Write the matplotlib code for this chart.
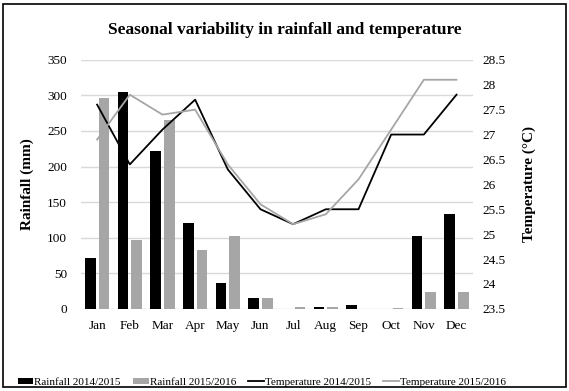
import numpy as np
import matplotlib.pyplot as plt
from matplotlib.patches import Rectangle

plt.rcParams['font.family'] = ['Liberation Serif', 'DejaVu Serif']

# data
months = ['Jan', 'Feb', 'Mar', 'Apr', 'May', 'Jun', 'Jul', 'Aug', 'Sep', 'Oct', 'Nov', 'Dec']
rain_1415 = [72, 305, 222, 120, 37, 15, 0, 2, 5, 0, 102, 133]
rain_1516 = [297, 97, 266, 83, 102, 15, 3, 2, 0, 1, 24, 24]
temp_1415 = [27.6, 26.4, 27.1, 27.7, 26.3, 25.5, 25.2, 25.5, 25.5, 27.0, 27.0, 27.8]
temp_1516 = [26.9, 27.8, 27.4, 27.5, 26.4, 25.6, 25.2, 25.4, 26.1, 27.1, 28.1, 28.1]

x = np.arange(len(months))
w = 0.33

fig = plt.figure(figsize=(5.69, 3.91), dpi=100)
ax = fig.add_axes([0.142, 0.21, 0.689, 0.637])

ax.bar(x - 0.21, rain_1415, w, color='black', label='Rainfall 2014/2015', zorder=2)
ax.bar(x + 0.21, rain_1516, w, color='#a6a6a6', label='Rainfall 2015/2016', zorder=2)
ax.set_ylim(0, 350)
ax.set_yticks(range(0, 351, 50))
ax.set_xlim(-0.5, 11.5)
ax.set_xticks(x)
ax.set_xticklabels(months)
ax.grid(axis='y', color='#d9d9d9', linewidth=1, zorder=0)
ax.set_axisbelow(True)
ax.tick_params(axis='y', length=0, labelsize=9.5, pad=10)
ax.tick_params(axis='x', length=0, labelsize=9.5, pad=8)
ax.set_ylabel('Rainfall (mm)', fontsize=11, fontweight='bold', labelpad=9)
for s in ax.spines.values():
    s.set_visible(False)

ax2 = ax.twinx()
ax2.plot(x, temp_1415, color='black', linewidth=1.3, label='Temperature 2014/2015', zorder=3)
ax2.plot(x, temp_1516, color='#a6a6a6', linewidth=1.3, label='Temperature 2015/2016', zorder=3)
ax2.set_ylim(23.5, 28.5)
ax2.set_yticks(np.arange(23.5, 28.51, 0.5))
ax2.set_yticklabels(['23.5', '24', '24.5', '25', '25.5', '26', '26.5', '27', '27.5', '28', '28.5'])
ax2.tick_params(length=0, labelsize=9.5, pad=7)
ax2.set_ylabel('Temperature (°C)', fontsize=11, fontweight='bold', labelpad=12)
for s in ax2.spines.values():
    s.set_visible(False)

fig.suptitle('Seasonal variability in rainfall and temperature', y=0.943,
             fontsize=12.5, fontweight='bold')

h1, l1 = ax.get_legend_handles_labels()
h2, l2 = ax2.get_legend_handles_labels()
fig.legend(h1 + h2, l1 + l2, loc='lower center', bbox_to_anchor=(0.46, -0.015),
           ncol=4, frameon=False, fontsize=8, handlelength=1.4, handletextpad=0.1,
           columnspacing=1.1, handleheight=0.5)

# outer frame
fig.patches.append(Rectangle((0.006, 0.01), 0.988, 0.98, transform=fig.transFigure,
                             fill=False, edgecolor='black', linewidth=1.2))

plt.savefig('out.png', dpi=100)
